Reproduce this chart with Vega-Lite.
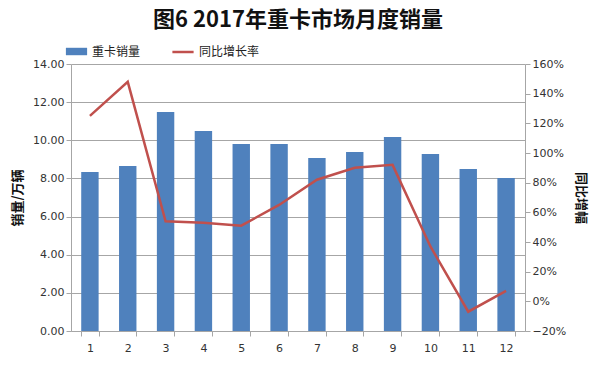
{
  "$schema": "https://vega.github.io/schema/vega-lite/v6.json",
  "autosize": "none",
  "width": 454,
  "height": 267,
  "padding": {"left": 71, "top": 64, "right": 75, "bottom": 39},
  "background": "white",
  "title": {
    "text": "图6 2017年重卡市场月度销量",
    "font": "Noto Sans CJK SC",
    "fontSize": 22,
    "fontWeight": "bold",
    "color": "#111111",
    "anchor": "middle",
    "offset": 8
  },
  "config": {
    "view": {"stroke": null},
    "font": "Noto Sans CJK SC",
    "axis": {
      "labelFont": "DejaVu Sans",
      "labelFontSize": 11,
      "labelColor": "#333333",
      "domainColor": "#a6a6a6",
      "tickColor": "#a6a6a6",
      "gridColor": "#a6a6a6",
      "titleFont": "Noto Sans CJK SC",
      "titleFontSize": 13,
      "titleFontWeight": "bold",
      "titleColor": "#111111"
    },
    "legend": {
      "labelFont": "Noto Sans CJK SC",
      "labelFontSize": 12,
      "labelColor": "#222222"
    }
  },
  "data": {
    "values": [
      {"month": 1, "sales": 8.34, "growth": 1.25},
      {"month": 2, "sales": 8.65, "growth": 1.48},
      {"month": 3, "sales": 11.48, "growth": 0.54},
      {"month": 4, "sales": 10.49, "growth": 0.53},
      {"month": 5, "sales": 9.8, "growth": 0.51},
      {"month": 6, "sales": 9.8, "growth": 0.65},
      {"month": 7, "sales": 9.07, "growth": 0.82},
      {"month": 8, "sales": 9.39, "growth": 0.9},
      {"month": 9, "sales": 10.17, "growth": 0.92},
      {"month": 10, "sales": 9.28, "growth": 0.37},
      {"month": 11, "sales": 8.49, "growth": -0.07},
      {"month": 12, "sales": 8.02, "growth": 0.07}
    ]
  },
  "encoding": {
    "x": {
      "field": "month",
      "type": "ordinal",
      "scale": {"paddingInner": 0.54, "paddingOuter": 0.27},
      "axis": {
        "title": null,
        "labelAngle": 0,
        "tickBand": "extent",
        "tickSize": 5,
        "labelPadding": 6,
        "grid": false
      }
    }
  },
  "layer": [
    {
      "mark": {"type": "bar", "color": "#4F81BD"},
      "encoding": {
        "y": {
          "field": "sales",
          "type": "quantitative",
          "scale": {"domain": [0, 14], "nice": false},
          "axis": {
            "title": "销量/万辆",
            "values": [0, 2, 4, 6, 8, 10, 12, 14],
            "format": ".2f",
            "grid": true,
            "tickSize": 5,
            "titlePadding": 8
          }
        },
        "color": {
          "datum": "重卡销量",
          "scale": {"range": ["#4F81BD"]},
          "legend": {
            "title": null,
            "orient": "none",
            "legendX": -6,
            "legendY": -24,
            "symbolType": "M-1,-0.35H1V0.35H-1Z",
            "symbolSize": 450,
            "symbolOpacity": 1
          }
        }
      }
    },
    {
      "mark": {"type": "line", "color": "#C0504D", "strokeWidth": 2.5},
      "encoding": {
        "y": {
          "field": "growth",
          "type": "quantitative",
          "scale": {"domain": [-0.2, 1.6], "nice": false},
          "axis": {
            "orient": "right",
            "title": "同比增幅",
            "titleAngle": 90,
            "values": [-0.2, 0, 0.2, 0.4, 0.6, 0.8, 1.0, 1.2, 1.4, 1.6],
            "format": ".0%",
            "grid": false,
            "tickSize": 5,
            "titlePadding": 8
          }
        },
        "stroke": {
          "datum": "同比增长率",
          "scale": {"range": ["#C0504D"]},
          "legend": {
            "title": null,
            "orient": "none",
            "legendX": 100,
            "legendY": -24,
            "symbolType": "stroke",
            "symbolStrokeWidth": 2.5,
            "symbolSize": 450
          }
        }
      }
    }
  ],
  "resolve": {"scale": {"y": "independent"}}
}
